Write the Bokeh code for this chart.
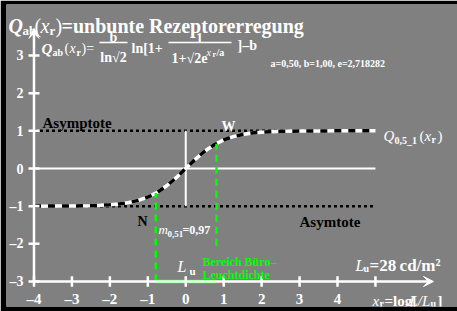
from bokeh.plotting import figure
from bokeh.models import Label, Arrow, VeeHead, Range1d
from bokeh.embed import file_html
from bokeh.resources import INLINE

# ---- data ----
x_curve = [-4, -3.5, -3, -2.5, -2.25, -2, -1.75, -1.5, -1.25, -1, -0.75, -0.5, -0.25, 0,
           0.25, 0.5, 0.75, 1, 1.25, 1.5, 1.75, 2, 2.25, 2.5, 3, 3.5, 4, 5]
q_curve = [-0.999, -0.998, -0.995, -0.986, -0.977, -0.964, -0.940, -0.904, -0.846, -0.759, -0.632,
           -0.459, -0.243, 0.0, 0.243, 0.459, 0.632, 0.759, 0.846, 0.904, 0.940, 0.964, 0.977,
           0.986, 0.995, 0.998, 0.999, 1.0]
x_ticks = [-4, -3, -2, -1, 0, 1, 2, 3, 4, 5]
x_tick_labels = ["\u20134", "\u20133", "\u20132", "\u20131", "0", "1", "2", "3", "4", ""]
y_ticks = [-3, -2, -1, 0, 1, 2, 3]
y_tick_labels = ["\u20133", "\u20132", "\u20131", "0", "1", "2", "3"]
asym_levels = [1, -1]
x_min, x_max = -4, 5
x_arrow_end, y_arrow_end = 6.53, 3.72
green_x = [-0.79, 0.81]
green_top = [-0.65, 0.66]
green_bottom = [-3.0, -2.05]

# pixel -> data helpers (for text placement only)
def X(px):
    return (px - 185.25) / 37.94

def Y(py):
    return (168 - py) / 37.67

p = figure(width=457, height=311, output_backend="svg", toolbar_location=None,
           x_range=Range1d(X(6), X(457)), y_range=Range1d(Y(306), Y(4)),
           x_axis_type=None, y_axis_type=None,
           min_border_left=6, min_border_top=4, min_border_right=0, min_border_bottom=5,
           border_fill_color="black", background_fill_color="#808080",
           outline_line_color=None)

FONT = "Liberation Serif"

def lab(px, py, s, size, color="white", bold=True, italic=False, align="left"):
    style = "normal"
    if bold and italic:
        style = "bold italic"
    elif bold:
        style = "bold"
    elif italic:
        style = "italic"
    p.add_layout(Label(x=X(px), y=Y(py), text=s, text_font=FONT,
                       text_font_size=f"{size}px", text_font_style=style,
                       text_color=color, text_align=align, text_baseline="alphabetic"))

# asymptotes (dotted)
for lv in asym_levels:
    p.line([x_min, x_max], [lv, lv], line_color="black", line_width=2.5, line_dash="3 3")

# zero line and centre vertical
p.line([x_min, x_max], [0, 0], line_color="white", line_width=2)
p.line([0, 0], [-1, 1], line_color="white", line_width=2)

# curve: white with black dashes
p.line(x_curve, q_curve, line_color="white", line_width=3.5)
p.line(x_curve, q_curve, line_color="black", line_width=3.5, line_dash="7 7")

# green range marks
for gx, gt, gb in zip(green_x, green_top, green_bottom):
    p.line([gx, gx], [gb, gt], line_color="#00ff00", line_width=2.5, line_dash="7 5")
p.line(green_x, [-3, -3], line_color="#00ff00", line_width=4)

# axes
p.add_layout(Arrow(end=VeeHead(size=10, line_color="white", fill_color="white"),
                   x_start=x_min, y_start=-3, x_end=x_arrow_end, y_end=-3,
                   line_color="white", line_width=2.5))
p.add_layout(Arrow(end=VeeHead(size=10, line_color="white", fill_color="white"),
                   x_start=-4, y_start=-3, x_end=-4, y_end=y_arrow_end,
                   line_color="white", line_width=2.5))
p.segment(x0=x_ticks, y0=[-3.14] * len(x_ticks), x1=x_ticks, y1=[-2.86] * len(x_ticks),
          line_color="white", line_width=2.5)
p.segment(x0=[-4.145] * len(y_ticks), y0=y_ticks, x1=[-3.855] * len(y_ticks), y1=y_ticks,
          line_color="white", line_width=2.5)

for v, t in zip(y_ticks, y_tick_labels):
    p.add_layout(Label(x=X(23), y=v, text=t, text_font=FONT, text_font_size="14px",
                       text_font_style="bold", text_color="white", text_align="right",
                       text_baseline="middle"))
for v, t in zip(x_ticks, x_tick_labels):
    if t:
        p.add_layout(Label(x=v, y=Y(298), text=t, text_font=FONT, text_font_size="15px",
                           text_font_style="bold", text_color="white", text_align="center",
                           text_baseline="alphabetic"))

# title
lab(8, 25, "Q", 20, italic=True)
lab(22, 30, "ab", 13)
lab(34, 25, "(", 20, bold=False)
lab(40, 25, "x", 20, bold=False, italic=True)
lab(49, 30, "r", 13)
lab(55, 25, ")", 20, bold=False)
lab(61, 25, "=unbunte Rezeptorerregung", 20)

# formula
lab(41, 48, "Q", 15, italic=True)
lab(52, 52, "ab", 10)
lab(64, 48, "(", 14, bold=False)
lab(69, 48, "x", 14, bold=False, italic=True)
lab(76, 52, "r", 10)
lab(81, 48, ")=", 14, bold=False)
lab(113, 37, "b", 14, align="center")
lab(113, 57, "ln\u221a2", 14, align="center")
lab(131, 48, "ln[1+", 14)
lab(199, 37, "1", 14, align="center")
lab(171, 58, "1+\u221a2e", 14)
lab(206, 52, "x", 10, bold=False, italic=True)
lab(212, 54, "r", 8)
lab(216, 52, "/a", 10)
lab(237, 45, "]\u2013b", 14)
p.segment(x0=[X(99), X(168)], y0=[Y(42), Y(42)], x1=[X(127), X(231)], y1=[Y(42), Y(42)],
          line_color="white", line_width=1.5)

lab(270, 63, "a=0,50, b=1,00, e=2,718282", 10)

# annotations in the plot
lab(42, 122, "Asymptote", 15, color="black")
lab(221, 126, "W", 14)
lab(383, 135, "Q", 15, bold=False, italic=True)
lab(394, 140, "0,5_1", 10)
lab(419, 135, "(", 15, bold=False)
lab(424, 135, "x", 15, bold=False, italic=True)
lab(431, 139, "r", 10)
lab(437, 135, ")", 15, bold=False)

lab(137, 221, "N", 14, color="black")
lab(299, 221, "Asymtote", 15, color="black")

lab(158, 229, "m", 13, bold=False, italic=True)
lab(167, 233, "0,51", 9)
lab(182, 229, "=0,97", 12)

lab(177, 266, "L", 16, bold=False, italic=True)
lab(189, 270, "u", 11)
lab(202, 261, "Bereich B\u00fcro\u2013", 12, color="#00ff00")
lab(202, 274, "Leuchtdichte", 12, color="#00ff00")

lab(355, 265, "L", 16, bold=False, italic=True)
lab(363, 268, "u", 10)
lab(369, 265, "=28\u2009cd/m\u00b2", 17)

lab(372, 300, "x", 15, bold=False, italic=True)
lab(379, 303, "r", 10)
lab(384, 300, "=log[", 15)
lab(409, 300, "L/L", 15, bold=False, italic=True)
lab(430, 303, "u", 10)
lab(437, 300, "]", 15)

open("out.html", "w").write(file_html(p, INLINE))
